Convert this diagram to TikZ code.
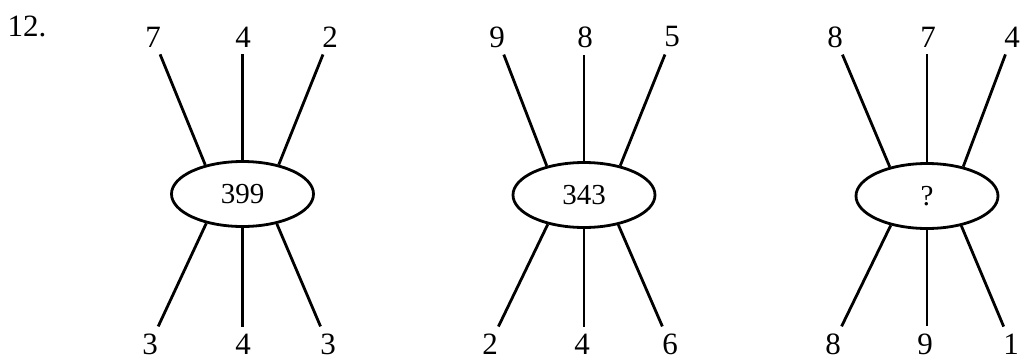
\documentclass[tikz,border=0pt]{standalone}
\usepackage{fontspec}
\setmainfont{Liberation Serif}
\usetikzlibrary{shapes.geometric}
\begin{document}
\begin{tikzpicture}[x=1pt,y=1pt,
  lbl/.style={inner sep=7pt, font=\fontsize{31}{31}\selectfont},
  oval/.style={draw, ellipse, line width=2.8pt, minimum width=142pt, minimum height=65pt, inner sep=0pt, font=\fontsize{29}{29}\selectfont},
  spoke/.style={line width=2.8pt}]
\useasboundingbox (0,0) rectangle (1023,360);
\node[inner sep=0pt, font=\fontsize{31}{31}\selectfont] (num) at (27,334) {12.};

% diagram 1
\node[oval] (e1) at (242.5,166) {399};
\node[lbl] (a1) at (153,323) {7};
\node[lbl] (a2) at (243,323) {4};
\node[lbl] (a3) at (330,323) {2};
\node[lbl] (a4) at (150,16) {3};
\node[lbl] (a5) at (243,16) {4};
\node[lbl] (a6) at (328,16) {3};
\draw[spoke] (a1) -- (e1.142);
\draw[spoke] (e1.north) -- (e1.north |- a2.south);
\draw[spoke] (a3) -- (e1.39);
\draw[spoke] (a4) -- (e1.219);
\draw[spoke] (e1.south) -- (e1.south |- a5.north);
\draw[spoke] (a6) -- (e1.319);

% diagram 2
\node[oval] (e2) at (584,165) {343};
\node[lbl] (b1) at (497,323) {9};
\node[lbl] (b2) at (585,323) {8};
\node[lbl] (b3) at (672,323) {5};
\node[lbl] (b4) at (490,16) {2};
\node[lbl] (b5) at (582,16) {4};
\node[lbl] (b6) at (670,16) {6};
\draw[spoke] (b1) -- (e2.142);
\draw[spoke] (e2.north) -- (e2.north |- b2.south);
\draw[spoke] (b3) -- (e2.39);
\draw[spoke] (b4) -- (e2.219);
\draw[spoke] (e2.south) -- (e2.south |- b5.north);
\draw[spoke] (b6) -- (e2.319);

% diagram 3
\node[oval] (e3) at (927,164) {?};
\node[lbl] (c1) at (835,323) {8};
\node[lbl] (c2) at (928,323) {7};
\node[lbl] (c3) at (1012,323) {4};
\node[lbl] (c4) at (833,16) {8};
\node[lbl] (c5) at (925,16) {9};
\node[lbl] (c6) at (1011,16) {1};
\draw[spoke] (c1) -- (e3.142);
\draw[spoke] (e3.north) -- (e3.north |- c2.south);
\draw[spoke] (c3) -- (e3.39);
\draw[spoke] (c4) -- (e3.219);
\draw[spoke] (e3.south) -- (e3.south |- c5.north);
\draw[spoke] (c6) -- (e3.319);
\end{tikzpicture}
\end{document}
